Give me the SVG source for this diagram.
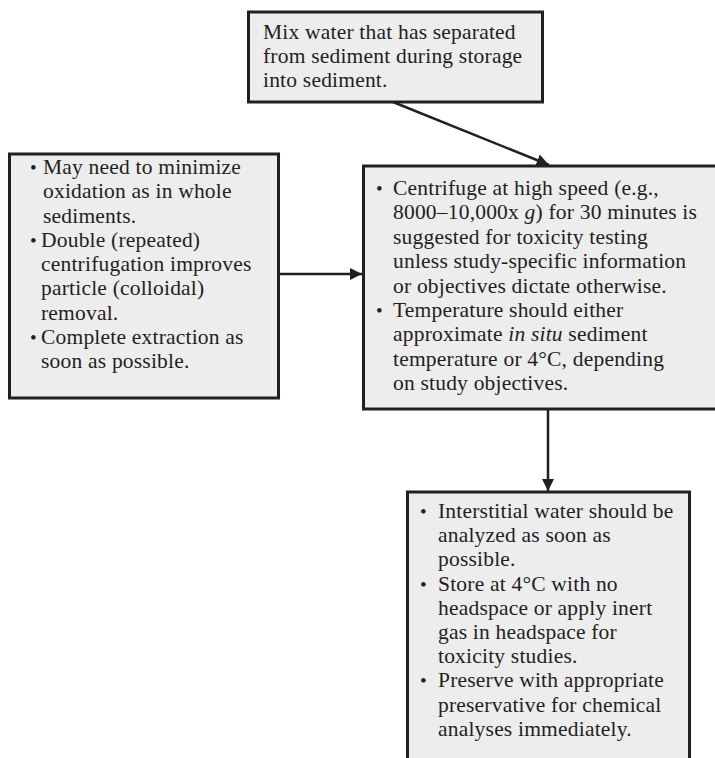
<svg xmlns="http://www.w3.org/2000/svg" width="715" height="758" viewBox="0 0 715 758">
<style>
.box{fill:#ededed;stroke:#231f20;stroke-width:3}
.t{font-family:"Liberation Serif","Times New Roman",serif;font-size:21.5px;fill:#231f20;letter-spacing:0.2px}
.b{font-family:"Liberation Serif","Times New Roman",serif;font-size:19px;fill:#231f20}
.i{font-style:italic}
.c{stroke:#231f20;stroke-width:2.5;fill:none}
</style>
<defs>
<marker id="ah" viewBox="0 0 10 10" refX="10" refY="5" markerWidth="5" markerHeight="5" markerUnits="strokeWidth" orient="auto">
<path d="M0,0 L10,5 L0,10 Z" fill="#231f20"/>
</marker>
</defs>
<rect width="715" height="758" fill="#ffffff"/>
<g id="connectors">
<line class="c" x1="393" y1="102" x2="549" y2="165" marker-end="url(#ah)"/>
<line class="c" x1="279" y1="274" x2="362" y2="274" marker-end="url(#ah)"/>
<line class="c" x1="548" y1="409" x2="548" y2="491" marker-end="url(#ah)"/>
</g>
<g id="top">
<rect class="box" x="248.5" y="12" width="294" height="90"/>
<text class="t" x="263" y="39">Mix water that has separated</text>
<text class="t" x="263" y="63">from sediment during storage</text>
<text class="t" x="263" y="87">into sediment.</text>
</g>
<g id="left">
<rect class="box" x="9.5" y="154" width="269" height="244"/>
<text class="b" x="30" y="174">•</text>
<text class="t" x="43" y="174">May need to minimize</text>
<text class="t" x="43" y="198.2">oxidation as in whole</text>
<text class="t" x="43" y="222.5">sediments.</text>
<text class="b" x="30" y="246.7">•</text>
<text class="t" x="41" y="246.7">Double (repeated)</text>
<text class="t" x="41" y="271">centrifugation improves</text>
<text class="t" x="41" y="295.2">particle (colloidal)</text>
<text class="t" x="41" y="319.5">removal.</text>
<text class="b" x="30" y="343.7">•</text>
<text class="t" x="41" y="343.7">Complete extraction as</text>
<text class="t" x="41" y="368">soon as possible.</text>
</g>
<g id="center">
<rect class="box" x="363.5" y="166" width="360" height="243"/>
<text class="b" x="376" y="195">•</text>
<text class="t" x="393" y="195">Centrifuge at high speed (e.g.,</text>
<text class="t" x="393" y="219.4">8000–10,000x <tspan class="i">g</tspan>) for 30 minutes is</text>
<text class="t" x="393" y="243.8">suggested for toxicity testing</text>
<text class="t" x="393" y="268.2">unless study-specific information</text>
<text class="t" x="393" y="292.6">or objectives dictate otherwise.</text>
<text class="b" x="376" y="317">•</text>
<text class="t" x="393" y="317">Temperature should either</text>
<text class="t" x="393" y="341.4">approximate <tspan class="i">in situ</tspan> sediment</text>
<text class="t" x="393" y="365.8">temperature or 4°C, depending</text>
<text class="t" x="393" y="390.2">on study objectives.</text>
</g>
<g id="bottom">
<rect class="box" x="407.5" y="492" width="282" height="300"/>
<text class="b" x="420" y="518">•</text>
<text class="t" x="438" y="518">Interstitial water should be</text>
<text class="t" x="438" y="542.2">analyzed as soon as</text>
<text class="t" x="438" y="566.4">possible.</text>
<text class="b" x="420" y="590.6">•</text>
<text class="t" x="438" y="590.6">Store at 4°C with no</text>
<text class="t" x="438" y="614.8">headspace or apply inert</text>
<text class="t" x="438" y="639">gas in headspace for</text>
<text class="t" x="438" y="663.2">toxicity studies.</text>
<text class="b" x="420" y="687.4">•</text>
<text class="t" x="438" y="687.4">Preserve with appropriate</text>
<text class="t" x="438" y="711.6">preservative for chemical</text>
<text class="t" x="438" y="735.8">analyses immediately.</text>
</g>
</svg>
